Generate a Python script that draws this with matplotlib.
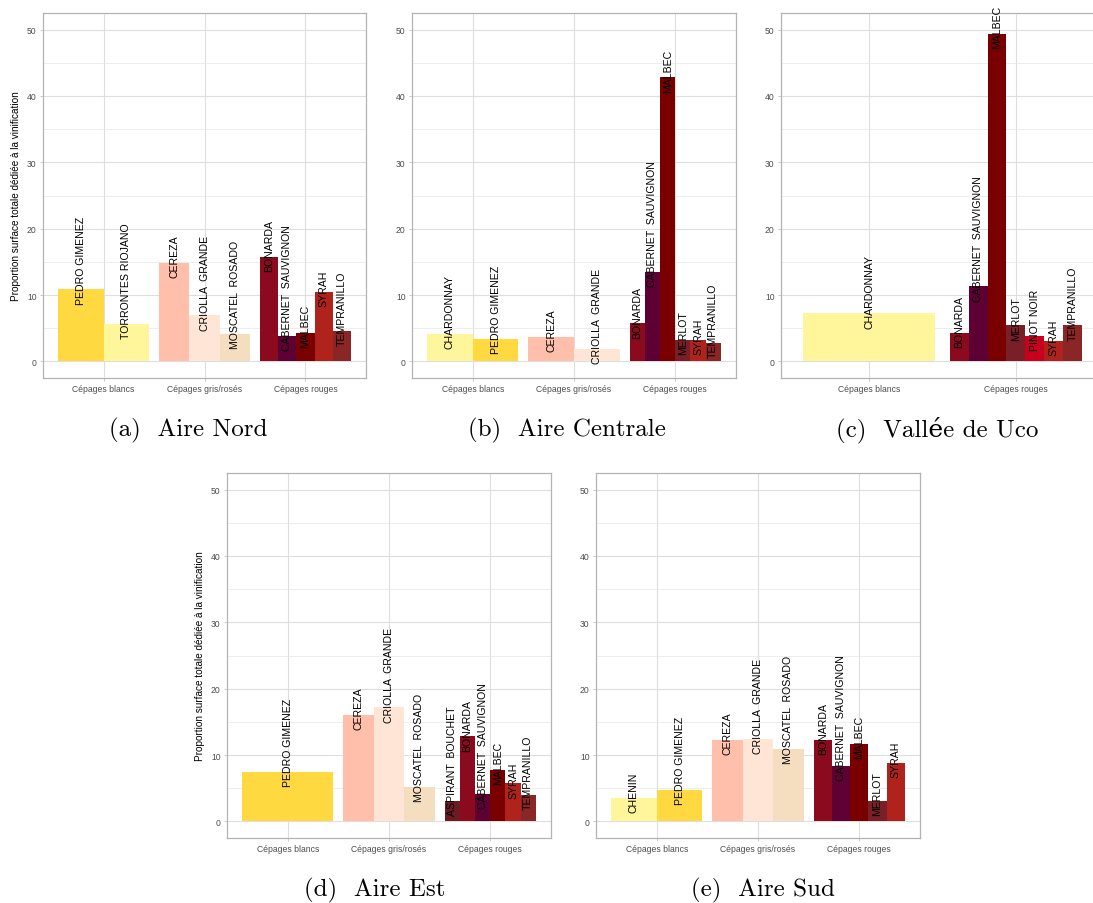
import matplotlib
matplotlib.use("Agg")
import matplotlib.pyplot as plt
from matplotlib.ticker import MultipleLocator

plt.rcParams['font.family'] = ['Liberation Sans', 'DejaVu Sans']

# ---- data ----
categories_all = ["Cépages blancs", "Cépages gris/rosés", "Cépages rouges"]
categories_uco = ["Cépages blancs", "Cépages rouges"]

nord_blancs = ["PEDRO GIMENEZ", "TORRONTES RIOJANO"]
nord_blancs_val = [10.9, 5.7]
nord_gris = ["CEREZA", "CRIOLLA  GRANDE", "MOSCATEL  ROSADO"]
nord_gris_val = [14.85, 7.0, 4.15]
nord_rouges = ["BONARDA", "CABERNET  SAUVIGNON", "MALBEC", "SYRAH", "TEMPRANILLO"]
nord_rouges_val = [15.75, 3.85, 4.3, 10.5, 4.6]

centre_blancs = ["CHARDONNAY", "PEDRO GIMENEZ"]
centre_blancs_val = [4.15, 3.4]
centre_gris = ["CEREZA", "CRIOLLA  GRANDE"]
centre_gris_val = [3.7, 1.9]
centre_rouges = ["BONARDA", "CABERNET  SAUVIGNON", "MALBEC", "MERLOT", "SYRAH", "TEMPRANILLO"]
centre_rouges_val = [5.8, 13.5, 42.8, 3.25, 3.25, 2.8]

uco_blancs = ["CHARDONNAY"]
uco_blancs_val = [7.3]
uco_rouges = ["BONARDA", "CABERNET  SAUVIGNON", "MALBEC", "MERLOT", "PINOT NOIR", "SYRAH", "TEMPRANILLO"]
uco_rouges_val = [4.3, 11.3, 49.4, 5.5, 3.85, 3.1, 5.5]

est_blancs = ["PEDRO GIMENEZ"]
est_blancs_val = [7.5]
est_gris = ["CEREZA", "CRIOLLA  GRANDE", "MOSCATEL  ROSADO"]
est_gris_val = [16.05, 17.25, 5.2]
est_rouges = ["ASPIRANT  BOUCHET", "BONARDA", "CABERNET  SAUVIGNON", "MALBEC", "SYRAH", "TEMPRANILLO"]
est_rouges_val = [3.1, 12.8, 4.15, 7.8, 5.8, 4.0]

sud_blancs = ["CHENIN", "PEDRO GIMENEZ"]
sud_blancs_val = [3.55, 4.75]
sud_gris = ["CEREZA", "CRIOLLA  GRANDE", "MOSCATEL  ROSADO"]
sud_gris_val = [12.3, 12.45, 10.95]
sud_rouges = ["BONARDA", "CABERNET  SAUVIGNON", "MALBEC", "MERLOT", "SYRAH"]
sud_rouges_val = [12.3, 8.4, 11.7, 3.1, 8.85]

colors = {
    "PEDRO GIMENEZ": "#FFD93F",
    "TORRONTES RIOJANO": "#FFF59A",
    "CHARDONNAY": "#FFF59A",
    "CHENIN": "#FFF59A",
    "CEREZA": "#FFBFAA",
    "CRIOLLA  GRANDE": "#FFE5D6",
    "MOSCATEL  ROSADO": "#F5DEC0",
    "ASPIRANT  BOUCHET": "#6E1A22",
    "BONARDA": "#8B0A1E",
    "CABERNET  SAUVIGNON": "#5E0034",
    "MALBEC": "#7A0000",
    "MERLOT": "#7A1E28",
    "PINOT NOIR": "#C8001E",
    "SYRAH": "#B0231D",
    "TEMPRANILLO": "#8B2626",
}

ylabel = "Proportion surface totale dédiée à la vinification"


def draw_panel(ax, cats, groups, with_ylabel):
    # ggplot-like dodge: each group takes 0.9 of the slot
    for i, (names, vals) in enumerate(groups):
        n = len(names)
        w = 0.9 / n
        xs = [i + 1 - 0.45 + w * (j + 0.5) for j in range(n)]
        ax.bar(xs, vals, width=w, color=[colors[k] for k in names], zorder=2)
        for x, v, name in zip(xs, vals, names):
            ax.text(x, v - 2.2, name, rotation=90, ha='center', va='bottom',
                    fontsize=7.6, color='black', zorder=3, clip_on=False)

    ax.set_xlim(0.4, len(cats) + 0.6)
    ax.set_ylim(-2.5, 52.5)
    ax.set_xticks(range(1, len(cats) + 1))
    ax.set_xticklabels(cats)
    ax.yaxis.set_major_locator(MultipleLocator(10))
    ax.yaxis.set_minor_locator(MultipleLocator(5))
    ax.grid(True, which='major', color='#DEDEDE', linewidth=0.8, zorder=0)
    ax.grid(True, which='minor', axis='y', color='#E6E6E6', linewidth=0.5, zorder=0)
    ax.set_axisbelow(True)
    for s in ax.spines.values():
        s.set_color('#B3B3B3')
        s.set_linewidth(0.9)
    ax.tick_params(which='major', colors='#B3B3B3', labelcolor='#4D4D4D',
                   labelsize=6.2, length=2.5, width=0.5, pad=2)
    ax.tick_params(which='minor', length=0)
    if with_ylabel:
        ax.set_ylabel(ylabel, fontsize=7.2, color='black', labelpad=4)


fig = plt.figure(figsize=(10.93, 9.04), dpi=100)
W, H = 1093, 904


def add_axes(left, top, right, bottom):
    return fig.add_axes([left / W, 1 - bottom / H, (right - left) / W, (bottom - top) / H])


ax_a = add_axes(43, 14, 366, 379)
ax_b = add_axes(412, 14, 736, 379)
ax_c = add_axes(781, 14, 1104, 379)
ax_d = add_axes(227, 474, 551, 839)
ax_e = add_axes(596, 474, 920, 839)

draw_panel(ax_a, categories_all,
           [(nord_blancs, nord_blancs_val), (nord_gris, nord_gris_val), (nord_rouges, nord_rouges_val)], True)
draw_panel(ax_b, categories_all,
           [(centre_blancs, centre_blancs_val), (centre_gris, centre_gris_val), (centre_rouges, centre_rouges_val)], False)
draw_panel(ax_c, categories_uco,
           [(uco_blancs, uco_blancs_val), (uco_rouges, uco_rouges_val)], False)
draw_panel(ax_d, categories_all,
           [(est_blancs, est_blancs_val), (est_gris, est_gris_val), (est_rouges, est_rouges_val)], True)
draw_panel(ax_e, categories_all,
           [(sud_blancs, sud_blancs_val), (sud_gris, sud_gris_val), (sud_rouges, sud_rouges_val)], False)

# sub-captions
cap_font = ['cmr10', 'DejaVu Serif']
captions = [("(a)  Aire Nord", 188, 430), ("(b)  Aire Centrale", 567, 430),
            ("(c)  Vallée de Uco", 937, 430), ("(d)  Aire Est", 375, 890),
            ("(e)  Aire Sud", 763, 890)]
for txt, cx, cy in captions:
    fig.text(cx / W, 1 - cy / H, txt, ha='center', va='center', fontsize=18,
             family=cap_font)

fig.savefig("out.png", dpi=100)
